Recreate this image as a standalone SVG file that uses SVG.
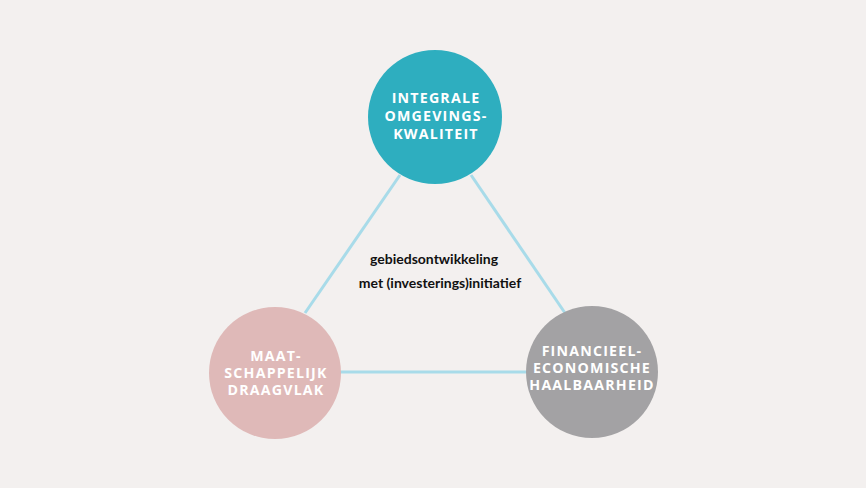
<svg xmlns="http://www.w3.org/2000/svg" width="866" height="488" viewBox="0 0 866 488">
<style>
.lbl{font-family:"Open Sans","Liberation Sans",sans-serif;font-weight:700;font-size:14.2px;fill:#ffffff;letter-spacing:1.2px;text-anchor:middle}
.ctr{font-family:Lato,"Liberation Sans",sans-serif;font-weight:700;font-size:14px;fill:#111111;text-anchor:middle}
.con{stroke:#a8dbe9;stroke-width:3;fill:none}
</style>
<rect width="866" height="488" fill="#f3f0ef"/>
<g id="connectors">
<line class="con" x1="400" y1="175" x2="305" y2="313"/>
<line class="con" x1="471" y1="175" x2="565" y2="313"/>
<line class="con" x1="340" y1="372" x2="527" y2="372"/>
</g>
<g id="node-top">
<circle cx="435" cy="117" r="67" fill="#2eaebf"/>
<text class="lbl" x="436" y="103">INTEGRALE</text>
<text class="lbl" x="436" y="121">OMGEVINGS-</text>
<text class="lbl" x="436" y="139">KWALITEIT</text>
</g>
<g id="node-left">
<circle cx="275" cy="373" r="66" fill="#dfb9b8"/>
<text class="lbl" x="276" y="361">MAAT-</text>
<text class="lbl" x="276" y="378">SCHAPPELIJK</text>
<text class="lbl" x="276" y="395">DRAAGVLAK</text>
</g>
<g id="node-right">
<circle cx="592" cy="372" r="66" fill="#a3a2a4"/>
<text class="lbl" x="592" y="356">FINANCIEEL-</text>
<text class="lbl" x="592" y="373">ECONOMISCHE</text>
<text class="lbl" x="592" y="390">HAALBAARHEID</text>
</g>
<g id="center-label">
<text class="ctr" x="434" y="264">gebiedsontwikkeling</text>
<text class="ctr" x="440" y="288">met (investerings)initiatief</text>
</g>
</svg>
